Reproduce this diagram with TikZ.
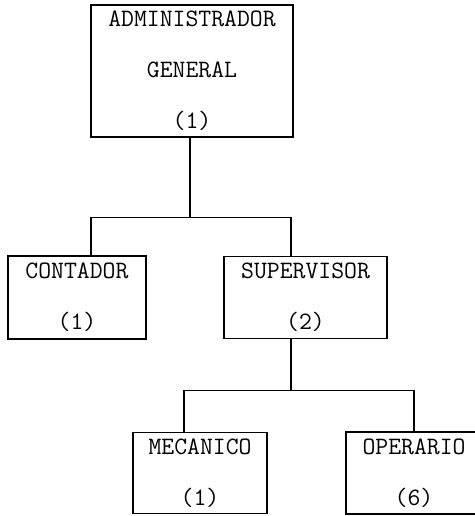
\documentclass[tikz,border=0pt]{standalone}
\usetikzlibrary{positioning}
\tikzset{
puesto/.style={draw, rectangle, line width=1.2pt, align=center, inner sep=0pt,
  font=\ttfamily\fontsize{25}{51}\selectfont}, % caja de cada puesto
linea/.style={line width=1.2pt}, % lineas de mando
}

\begin{document}
\begin{tikzpicture}
    \useasboundingbox (-192pt,-445pt) rectangle (282pt,71pt);
    \node[puesto, minimum width=202pt, minimum height=132pt] (adm) {ADMINISTRADOR\\GENERAL\\(1)};
    \node[puesto, minimum width=138pt, minimum height=83pt, below of=adm, node distance=226.5pt, xshift=-115pt] (cont) {CONTADOR\\(1)};
    \node[puesto, minimum width=163pt, minimum height=82pt, right of=cont, node distance=228.5pt] (sup) {SUPERVISOR\\(2)};
    \node[puesto, minimum width=134pt, minimum height=81pt, below of=sup, node distance=175.5pt, xshift=-105.5pt] (mec) {MECANICO\\(1)};
    \node[puesto, minimum width=136pt, minimum height=82pt, right of=mec, node distance=214pt] (ope) {OPERARIO\\(6)};
    \draw[linea] ([xshift=-2pt]adm.south) -- ++(0,-80pt) coordinate (j1);
    \draw[linea] ([xshift=14pt]cont.north) |- (j1) -| ([xshift=-14.5pt]sup.north);
    \draw[linea] ([xshift=-14.5pt]sup.south) -- ++(0,-51pt) coordinate (j2);
    \draw[linea] ([xshift=-16pt]mec.north) |- (j2) -| (ope.north);
  \end{tikzpicture}
\end{document}
